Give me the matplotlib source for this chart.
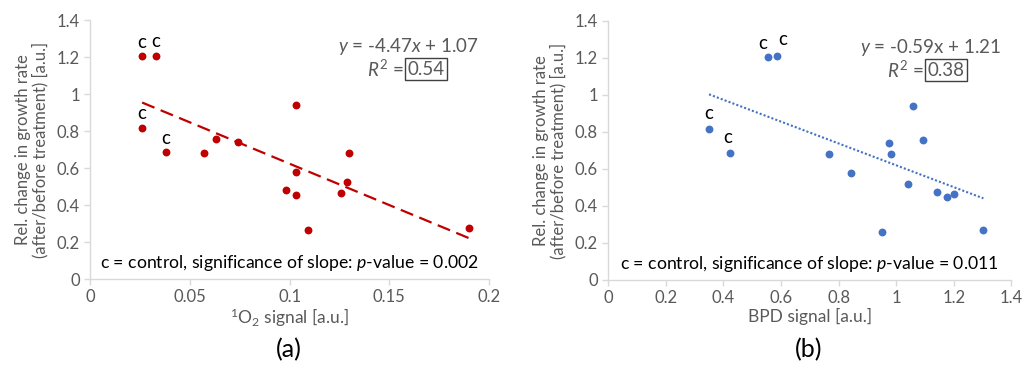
import matplotlib
matplotlib.use("Agg")
import matplotlib.pyplot as plt
import numpy as np

plt.rcParams['font.family'] = ['Lato', 'DejaVu Sans']
plt.rcParams['mathtext.fontset'] = 'custom'
plt.rcParams['mathtext.rm'] = 'Lato'
plt.rcParams['mathtext.it'] = 'Lato:italic'

# Panel (a): singlet oxygen signal
o2_signal = [0.026, 0.033, 0.026, 0.038, 0.057, 0.063, 0.074, 0.103, 0.103, 0.098,
             0.103, 0.109, 0.126, 0.129, 0.130, 0.190]
growth_a = [1.205, 1.208, 0.817, 0.686, 0.680, 0.759, 0.740, 0.943, 0.580, 0.479,
            0.452, 0.266, 0.467, 0.522, 0.680, 0.275]
control_a = [True, True, True, True] + [False] * 12

# Panel (b): BPD signal
bpd_signal = [0.556, 0.586, 0.350, 0.424, 0.767, 0.843, 0.975, 0.981, 1.057, 1.092,
              1.041, 1.142, 1.175, 1.201, 0.952, 1.303]
growth_b = [1.205, 1.209, 0.816, 0.685, 0.679, 0.580, 0.739, 0.679, 0.941, 0.759,
            0.519, 0.476, 0.450, 0.463, 0.261, 0.272]
control_b = [True, True, True, True] + [False] * 12

slope_a, icpt_a, r2_a, p_a = -4.47, 1.07, "0.54", "0.002"
slope_b, icpt_b, r2_b, p_b = -0.59, 1.21, "0.38", "0.011"

yticks = [0, 0.2, 0.4, 0.6, 0.8, 1, 1.2, 1.4]
ytick_labels = ["0", "0.2", "0.4", "0.6", "0.8", "1", "1.2", "1.4"]
xticks_a = [0, 0.05, 0.1, 0.15, 0.2]
xtick_labels_a = ["0", "0.05", "0.1", "0.15", "0.2"]
xticks_b = [0, 0.2, 0.4, 0.6, 0.8, 1, 1.2, 1.4]
xtick_labels_b = ["0", "0.2", "0.4", "0.6", "0.8", "1", "1.2", "1.4"]

GRAY = '#595959'
SPINE = '#d9d9d9'
RED = '#C00000'
BLUE = '#4472C4'
FS = 13.5

fig = plt.figure(figsize=(10.23, 3.65), dpi=100)
ax_a = fig.add_axes([0.0883, 0.2356, 0.3897, 0.7096])
ax_b = fig.add_axes([0.5946, 0.2329, 0.3940, 0.7096])


def style(ax, xticks, xlabels, xmax):
    ax.set_ylim(0, 1.4)
    ax.set_xlim(0, xmax)
    ax.set_yticks(yticks)
    ax.set_yticklabels(ytick_labels)
    ax.set_xticks(xticks)
    ax.set_xticklabels(xlabels)
    for s in ['top', 'right']:
        ax.spines[s].set_visible(False)
    for s in ['left', 'bottom']:
        ax.spines[s].set_color(SPINE)
        ax.spines[s].set_linewidth(1.0)
    ax.tick_params(axis='both', colors=SPINE, labelcolor=GRAY, labelsize=12,
                   length=4, width=1.0, direction='out')
    ax.set_ylabel("Rel. change in growth rate\n(after/before treatment) [a.u.]",
                  color=GRAY, fontsize=12, linespacing=1.05, labelpad=6)


def panel(ax, x, y, ctrl, color, slope, icpt, r2, pval, ls, xlabel, eq, xmax,
          xticks, xlabels, eqx, boxx, c_offsets):
    style(ax, xticks, xlabels, xmax)
    ax.scatter(x, y, s=32, color=color, zorder=3, linewidths=0)
    xs = np.array([min(x), max(x)])
    if ls == 'dash':
        ax.plot(xs, slope * xs + icpt, color=color, lw=1.6, dashes=(6, 3), zorder=2)
    else:
        ax.plot(xs, slope * xs + icpt, color=color, lw=1.5, dashes=(1, 1), zorder=2)
    k = 0
    for xi, yi, c in zip(x, y, ctrl):
        if c:
            dx, dy = c_offsets[k]
            ax.annotate('c', (xi, yi), xytext=(dx, dy), textcoords='offset points',
                        ha='center', va='bottom', fontsize=13.5, color='black')
            k += 1
    ax.set_xlabel(xlabel, color=GRAY, fontsize=12.5, labelpad=1)
    ax.text(eqx, 1.255, eq, ha='center', va='center', fontsize=FS, color=GRAY)
    t = ax.text(boxx, 1.135, r2, ha='center', va='center', fontsize=FS, color=GRAY,
                bbox=dict(boxstyle='square,pad=0.15', fc='none', ec='#404040', lw=1.0))
    fig.canvas.draw()
    bb = t.get_window_extent()
    inv = ax.transData.inverted()
    xl = inv.transform((bb.x0 - 4, 0))[0]
    ax.text(xl, 1.135, r'$R^2$ =', ha='right', va='center', fontsize=FS, color=GRAY)
    ax.text(xmax * 0.5, 0.085,
            'c = control, significance of slope: $p$-value = ' + pval,
            ha='center', va='center', fontsize=12.7, color='black')


panel(ax_a, o2_signal, growth_a, control_a, RED, slope_a, icpt_a, r2_a, p_a, 'dash',
      r'$^1$O$_2$ signal [a.u.]', r'$y$ = -4.47$x$ + 1.07', 0.2,
      xticks_a, xtick_labels_a, 0.1594, 0.1684,
      [(0, 4), (0, 4), (0, 4), (0, 4)])
panel(ax_b, bpd_signal, growth_b, control_b, BLUE, slope_b, icpt_b, r2_b, p_b, 'dot',
      'BPD signal [a.u.]', r'$y$ = -0.59x + 1.21', 1.4,
      xticks_b, xtick_labels_b, 1.1204, 1.173,
      [(-4, 4), (4, 6), (0, 5), (-2, 5)])

fig.text(289 / 1023, 1 - 350 / 365, '(a)', ha='center', va='center', fontsize=18)
fig.text(809 / 1023, 1 - 350 / 365, '(b)', ha='center', va='center', fontsize=18)

fig.savefig('out.png', dpi=100)
